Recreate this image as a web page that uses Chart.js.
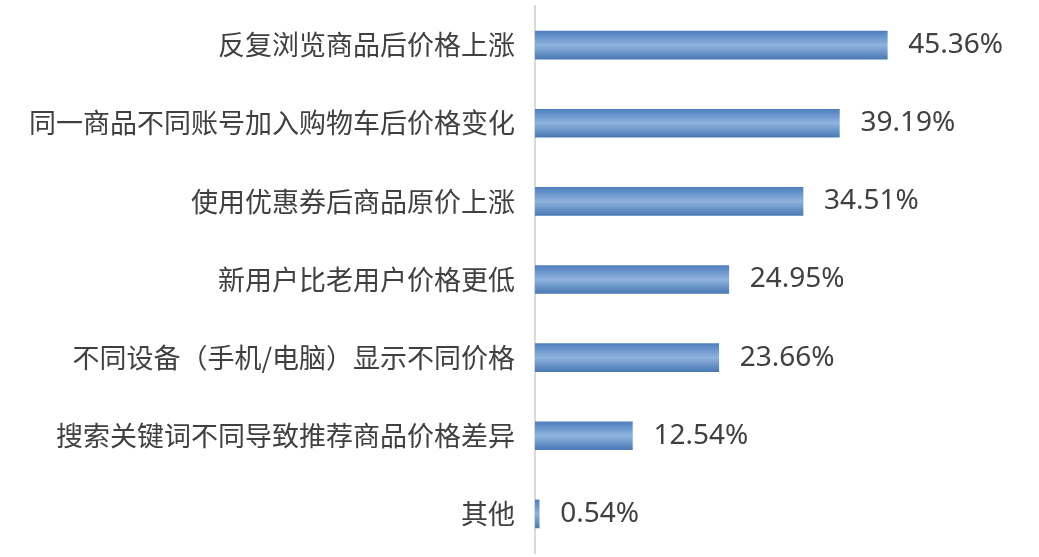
<!DOCTYPE html>
<html>
<head>
<meta charset="utf-8">
<script src="https://cdn.jsdelivr.net/npm/chart.js@4.4.1/dist/chart.umd.min.js"></script>
<style>
  html, body { margin: 0; padding: 0; background: #fff; }
  #wrap { width: 1039px; height: 557px; }
</style>
</head>
<body>
<div id="wrap"><canvas id="priceChart"></canvas></div>
<script>
// Categories and values (percent)
const categories = [
    '反复浏览商品后价格上涨',
    '同一商品不同账号加入购物车后价格变化',
    '使用优惠券后商品原价上涨',
    '新用户比老用户价格更低',
    '不同设备（手机/电脑）显示不同价格',
    '搜索关键词不同导致推荐商品价格差异',
    '其他'
];
const percentValues = [45.36, 39.19, 34.51, 24.95, 23.66, 12.54, 0.54];

const BAR_THICK = 28;
const textColor = '#404040';

// Vertical gradient for each bar (light in the middle, darker at the edges)
function barGradient(context) {
    const chart = context.chart;
    const yScale = chart.scales.y;
    if (!yScale || !chart.chartArea) return '#6f98cc';
    const cy = yScale.getPixelForValue(context.dataIndex);
    const g = chart.ctx.createLinearGradient(0, cy - BAR_THICK / 2, 0, cy + BAR_THICK / 2);
    g.addColorStop(0, '#4f7fbd');
    g.addColorStop(0.5, '#8fb3de');
    g.addColorStop(1, '#4a79b5');
    return g;
}

// Draw the percent labels right of each bar
const valueLabels = {
    id: 'valueLabels',
    afterDatasetsDraw(chart) {
        const ctx = chart.ctx;
        const meta = chart.getDatasetMeta(0);
        ctx.save();
        ctx.font = '28px "Noto Sans", "Noto Sans CJK SC", sans-serif';
        ctx.fillStyle = textColor;
        ctx.textAlign = 'left';
        ctx.textBaseline = 'middle';
        meta.data.forEach((bar, i) => {
            ctx.fillText(percentValues[i].toFixed(2) + '%', bar.x + 21, bar.y);
        });
        ctx.restore();
    }
};

const ctx = document.getElementById('priceChart').getContext('2d');
new Chart(ctx, {
    type: 'bar',
    data: {
        labels: categories,
        datasets: [{
            data: percentValues,
            backgroundColor: barGradient,
            borderWidth: 0,
            barThickness: BAR_THICK
        }]
    },
    options: {
        indexAxis: 'y',
        responsive: true,
        maintainAspectRatio: false,
        animation: false,
        layout: {
            padding: { top: 6, bottom: 4, left: 0, right: 38 }
        },
        plugins: {
            legend: { display: false },
            tooltip: { enabled: false }
        },
        scales: {
            x: {
                display: false,
                min: 0,
                max: 60
            },
            y: {
                afterFit(scale) {
                    scale.width = 535;
                    scale.paddingTop = 0;
                    scale.paddingBottom = 0;
                },
                grid: { display: false, drawTicks: false },
                border: { display: true, color: '#d9d9d9', width: 2 },
                ticks: {
                    padding: 20,
                    color: textColor,
                    font: { family: '"Noto Sans CJK SC", sans-serif', size: 27 }
                }
            }
        }
    },
    plugins: [valueLabels]
});
</script>
</body>
</html>
